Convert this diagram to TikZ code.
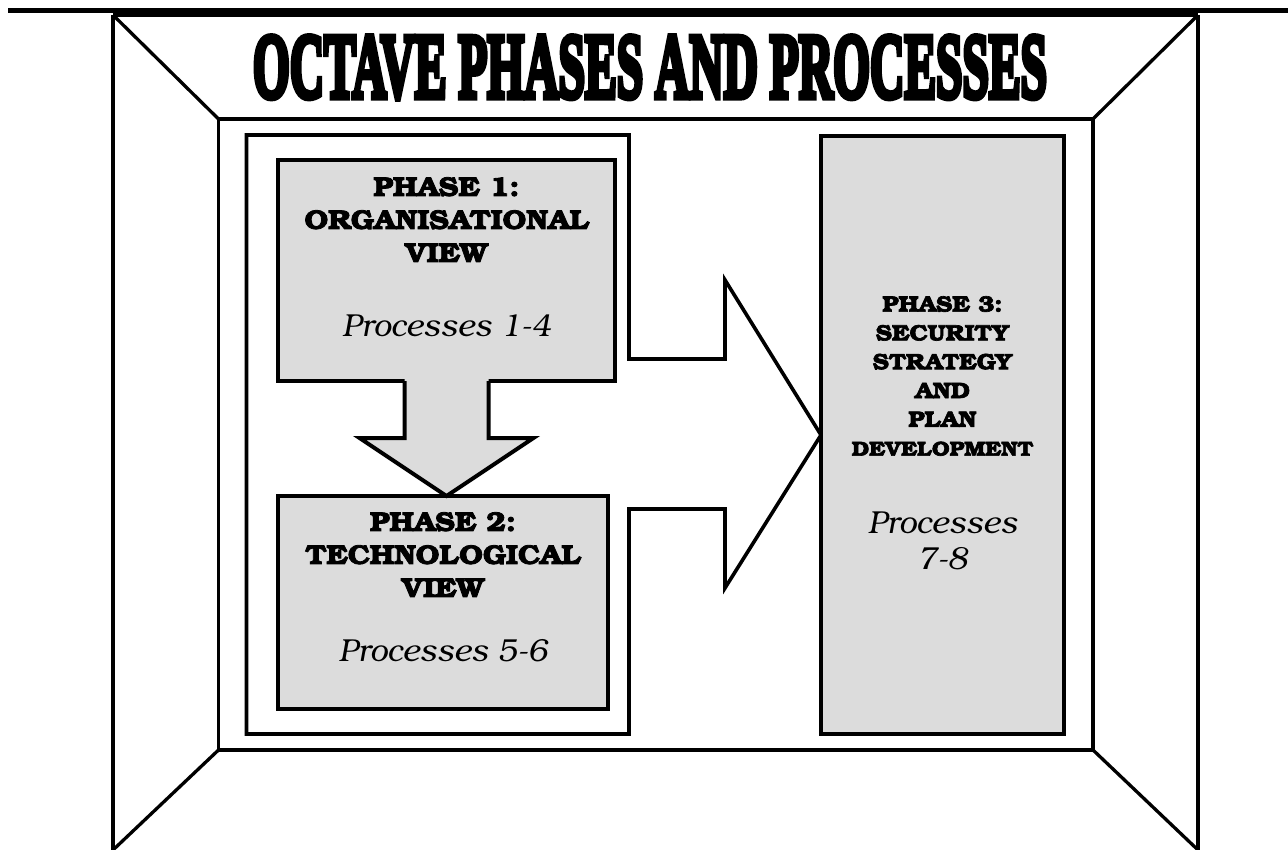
\documentclass[tikz,border=0pt]{standalone}
\usepackage{fontspec}
\usepackage{graphicx}
\usetikzlibrary{calc}
\setmainfont{texgyrebonum}[Extension=.otf, UprightFont=*-regular, BoldFont=*-bold, ItalicFont=*-italic, BoldItalicFont=*-bolditalic,
  BoldFeatures={FakeStretch=1.1, FakeBold=3}]
\newfontfamily\titlefont{Liberation Serif Bold}[FakeBold=7]
\definecolor{panelgrey}{HTML}{DCDCDC}

\begin{document}
\begin{tikzpicture}[x=1pt,y=-1pt,
  roomline/.style={line width=3.3pt, line join=miter},
  groupline/.style={line width=3.6pt, line join=miter},
  phasebox/.style={draw, fill=panelgrey, line width=4pt, rectangle, inner sep=0pt, outer sep=0pt},
  arrowline/.style={line width=4pt, line join=miter},
  headtext/.style={font=\bfseries\fontsize{27}{33}\selectfont, align=center, inner sep=0pt},
  smallhead/.style={font=\bfseries\fontsize{22.2}{28.8}\selectfont, align=center, inner sep=0pt},
  proctext/.style={font=\itshape\fontsize{31.8}{36}\selectfont, align=center, inner sep=0pt},
]
\useasboundingbox (0,0) rectangle (1288,850);

% heavy rule along the top edge
\draw[line width=5pt] (8,10.5) -- (1288,10.5);

% room: outer frame, back wall and corner edges
\coordinate (otl) at (113,15);
\coordinate (otr) at (1198,15);
\coordinate (obl) at (113,852);
\coordinate (obr) at (1198,852);
\coordinate (wtl) at (218.5,119);
\coordinate (wtr) at (1093,119);
\coordinate (wbl) at (218.5,750);
\coordinate (wbr) at (1093,750);
\draw[roomline] (otl) -- (otr);
\draw[roomline] (otl) -- (obl);
\draw[roomline] (otr) -- (obr);
\draw[roomline] (wtl) rectangle (wbr);
\draw[roomline] (otl) -- (wtl);
\draw[roomline] (otr) -- (wtr);
\draw[roomline] (wbl) -- (113,850);
\draw[roomline] (wbr) -- (1198,850);

% title
\node[inner sep=0pt] (title) at (650,67.5)
  {\resizebox{794pt}{61pt}{\titlefont OCTAVE PHASES AND PROCESSES}};

% phase 3 box (target of the big arrow)
\node[phasebox, minimum width=243pt, minimum height=598pt] (p3) at (942.5,435) {};

% frame around phases 1 and 2, opening into the arrow towards phase 3
\path[groupline, draw, fill=white] (246.5,135) -- (629,135) -- (629,359) -- (725,359) -- (725,280)
  -- (p3.west) -- (725,588) -- (725,509) -- (629,509) -- (629,734) -- (246.5,734) -- cycle;

% phase 3 box drawn again above the arrow tip
\node[phasebox, minimum width=243pt, minimum height=598pt] at (p3) {};

% phase 1 and phase 2 boxes
\node[phasebox, minimum width=337pt, minimum height=221pt] (p1) at (446.5,270.5) {};
\node[phasebox, minimum width=330pt, minimum height=213pt] (p2) at (443,602.5) {};

% downward arrow from phase 1 to phase 2
\fill[panelgrey] ($(p1.south)+(-42,-4)$) -- ($(p1.south)+(-42,57)$) -- ($(p1.south)+(-87,57)$)
  -- (p1.south |- p2.north) -- ($(p1.south)+(87,57)$) -- ($(p1.south)+(42,57)$)
  -- ($(p1.south)+(42,-4)$) -- cycle;
\draw[arrowline] ($(p1.south)+(-42,0)$) -- ($(p1.south)+(-42,57)$) -- ($(p1.south)+(-87,57)$)
  -- (p1.south |- p2.north) -- ($(p1.south)+(87,57)$) -- ($(p1.south)+(42,57)$)
  -- ($(p1.south)+(42,0)$);

% texts
\node[headtext, anchor=north] (p1head) at ($(p1.north)+(0,17)$) {PHASE 1:\\ORGANISATIONAL\\VIEW};
\node[proctext, anchor=base] (p1proc) at ($(p1.north)+(0,177)$) {Processes 1-4};
\node[headtext, anchor=north] (p2head) at ($(p2.north)+(0,16)$) {PHASE 2:\\TECHNOLOGICAL\\VIEW};
\node[proctext, anchor=base] (p2proc) at ($(p2.north)+(0,165)$) {Processes 5-6};
\node[smallhead, anchor=north] (p3head) at ($(p3.north)+(0,160)$)
  {PHASE 3:\\SECURITY\\STRATEGY\\AND\\PLAN\\{\fontsize{20.2}{28.8}\selectfont DEVELOPMENT}};
\node[proctext, anchor=north] (p3proc) at ($(p3.north)+(0,376)$) {Processes\\7-8};
\end{tikzpicture}
\end{document}
